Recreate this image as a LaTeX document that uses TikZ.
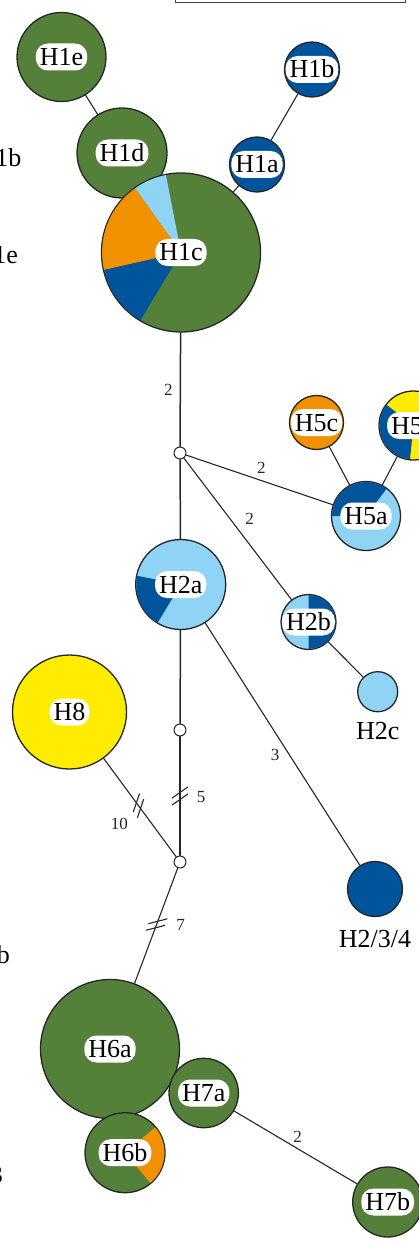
\documentclass[tikz,border=0pt]{standalone}
\usepackage{fontspec}
\setmainfont{Liberation Serif}
\usetikzlibrary{calc,positioning}
\definecolor{hgreen}{RGB}{84,128,58}
\definecolor{hblue}{RGB}{0,84,156}
\definecolor{hsky}{RGB}{143,211,245}
\definecolor{horange}{RGB}{242,145,0}
\definecolor{hyellow}{RGB}{255,236,0}

\begin{document}
\begin{tikzpicture}[x=1pt,y=1pt,line cap=round,line join=round,
  hap/.style={circle,draw=black!85,line width=1.3pt,inner sep=0pt,minimum size=#1*2pt},
  mv/.style={circle,draw=black!85,fill=white,line width=1pt,inner sep=0pt,minimum size=12pt},
  lbl/.style={fill=white,rounded corners=12pt,inner xsep=4pt,inner ysep=5pt,text height=17pt,text depth=0pt,font=\fontsize{26}{30}\selectfont},
  txt/.style={inner sep=0pt,text height=17pt,text depth=0pt,font=\fontsize{26}{30}\selectfont},
  num/.style={inner sep=1pt,font=\fontsize{17}{20}\selectfont},
  link/.style={line width=1.1pt,black!85},
  trunk/.style={line width=1.5pt,black!85}]
\useasboundingbox (0,0) rectangle (419,-1241);
% legend frame and cut labels of the panel on the left
\draw[line width=1pt,black!75] (175,-2.3) rectangle (405,40);
\node[txt,anchor=base east] (c1b) at (21.7,-167) {H1b};
\node[txt,anchor=base east] (c1e) at (18,-263) {H1e};
\node[txt,anchor=base east] (c6b) at (10,-963) {H6b};
\node[txt,anchor=base east] (c3) at (3,-1183) {H3};
% haplotypes
\node[hap=44.5,fill=hgreen] (H1e) at (61.5,-57) {};
\node[hap=45,fill=hgreen] (H1d) at (122,-153) {};
\node[hap=27.5,fill=hblue] (H1b) at (312,-69.5) {};
\node[hap=27.5,fill=hblue] (H1a) at (257,-164.5) {};
\node[hap=79.5,fill=hgreen] (H1c) at (181,-252.5) {};
\node[hap=27,fill=horange] (H5c) at (316.5,-422.5) {};
\node[hap=34.5,fill=hyellow] (H5b) at (413.5,-425.5) {};
\node[hap=34.5,fill=hsky] (H5a) at (366,-516) {};
\node[hap=45,fill=hsky] (H2a) at (180.7,-584.5) {};
\node[hap=27.5,fill=hsky] (H2b) at (308.5,-622) {};
\node[hap=20,fill=hsky] (H2c) at (377.7,-691.7) {};
\node[hap=57,fill=hyellow] (H8) at (69.5,-712) {};
\node[hap=27.5,fill=hblue] (H234) at (375,-889) {};
\node[hap=69.5,fill=hgreen] (H6a) at (110,-1049) {};
\node[hap=34.7,fill=hgreen] (H7a) at (203.7,-1093) {};
\node[hap=40,fill=hgreen] (H6b) at (125,-1152.7) {};
\node[hap=35,fill=hgreen] (H7b) at (387.7,-1202) {};
% median vectors
\node[mv] (m1) at (180,-453) {};
\node[mv] (m2) at (180,-730) {};
\node[mv] (m3) at (180,-862) {};
% pie slices
\foreach \n/\r/\a/\b/\c in {H1c/78.9/101/125.6/hsky, H1c/78.9/125.6/192.8/horange,
    H1c/78.9/192.8/239.1/hblue, H5b/33.9/142.6/264/hblue, H5a/33.9/53/180/hblue,
    H2a/44.4/168.7/238.9/hblue, H2b/26.9/-90/90/hblue, H6b/39.4/-50/40/horange}
  \fill[\c] (\n.center) -- ++(\a:\r) arc[start angle=\a,end angle=\b,radius=\r] -- cycle;
% labels
\foreach \n/\r in {H1e/44.5, H1d/45, H1b/27.5, H1a/27.5, H1c/79.5, H5c/27, H5b/34.5,
    H5a/34.5, H2a/45, H2b/27.5, H8/57, H6a/69.5, H7a/34.7, H6b/40, H7b/35} {
  \begin{scope}
    \clip (\n.center) circle[radius=\r-.65];
    \node[lbl] (\n-l) at (\n) {\n};
  \end{scope}
}
\node[txt,below=10pt of H2c] (H2c-t) {H2c};
\node[txt,below=13pt of H234] (H234-t) {H2/3/4};
% connectors
\draw[link] (H1e) -- (H1d);
\draw[link] (H1b) -- (H1a);
\draw[link] (H1a) -- (H1c);
\draw[trunk] (H1c) -- node[num,pos=.5,xshift=-12pt]{2} (m1);
\draw[trunk] (m1) -- (H2a);
\draw[link] (m1) -- node[num,pos=.5,xshift=2pt,yshift=12pt]{2} (H5a);
\draw[link] (m1) -- node[num,pos=.5,xshift=12pt,yshift=10pt]{2} (H2b);
\draw[link] (H5c) -- (H5a);
\draw[link] (H5b) -- (H5a);
\draw[link] (H2b) -- (H2c);
\draw[trunk] (H2a) -- (m2);
\draw[link] (H2a) -- node[num,pos=.5,xshift=-7.4pt,yshift=-11pt]{3} (H234);
\draw[link] (m2) -- coordinate[pos=.5] (b5) node[num,pos=.5,xshift=21pt,yshift=-1pt]{5} (m3);
\draw[link] (H8) -- coordinate[pos=.48] (b10) node[num,pos=.48,xshift=-19pt,yshift=-18.7pt]{10} (m3);
\draw[link] (m3) -- coordinate[pos=.49] (b7) node[num,pos=.49,xshift=24pt]{7} (H6a);
\draw[link] (H7a) -- node[num,pos=.5,xshift=2pt,yshift=11pt]{2} (H7b);
% breaks
\foreach \c/\t in {b5/m3, b10/m3, b7/H6a}
  \foreach \s in {-3.5pt,3.5pt}
    \draw[link] ($($(\c)!\s!(\t)$)!9.5pt!125:(\t)$) -- ($($(\c)!\s!(\t)$)!9.5pt!-55:(\t)$);
\end{tikzpicture}
\end{document}
